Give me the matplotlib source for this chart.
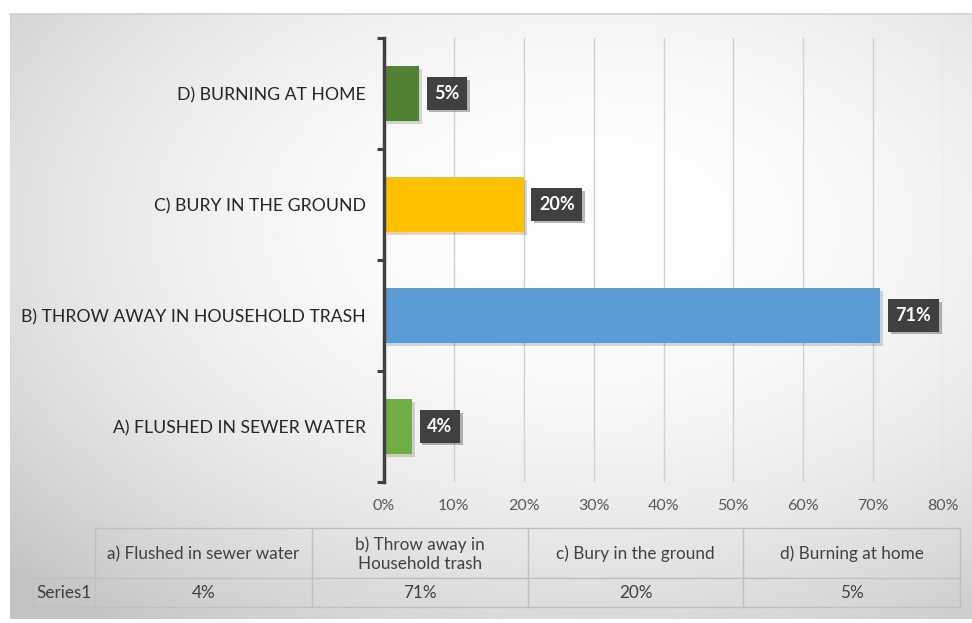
import numpy as np
import matplotlib
matplotlib.use("Agg")
import matplotlib.pyplot as plt
import matplotlib.patheffects as pe

categories = ["A) FLUSHED IN SEWER WATER", "B) THROW AWAY IN HOUSEHOLD TRASH",
              "C) BURY IN THE GROUND", "D) BURNING AT HOME"]
values = [4, 71, 20, 5]
bar_colors = ["#70AD47", "#5B9BD5", "#FFC000", "#548235"]
xticks = [0, 10, 20, 30, 40, 50, 60, 70, 80]
table_header = ["a) Flushed in sewer water", "b) Throw away in\nHousehold trash",
                "c) Bury in the ground", "d) Burning at home"]
series_name = "Series1"

plt.rcParams['font.family'] = ['Lato', 'DejaVu Sans']

W, H = 972, 623
fig = plt.figure(figsize=(W / 100, H / 100), dpi=100)
fig.patch.set_facecolor("white")

def fx(px):
    return px / W

def fy(py):
    return 1 - py / H

# background gradient panel
bx0, by0, bx1, by1 = 10, 14, 971, 619
bg = fig.add_axes([fx(bx0), fy(by1), fx(bx1 - bx0), (by1 - by0) / H])
bg.set_zorder(-5)
ny, nx = 300, 480
yy, xx = np.mgrid[0:ny, 0:nx]
cx, cy = nx * 0.6, ny * 0.35
r2 = ((xx - cx) / (nx / 2)) ** 2 + ((yy - cy) / (ny / 2)) ** 2
v = 1 - 0.085 * r2
v = np.clip(v, 0.77, 1.0)
img = np.dstack([v, v, v])
bg.imshow(img, aspect="auto", extent=[0, 1, 0, 1], interpolation="bilinear")
bg.set_xlim(0, 1)
bg.set_ylim(0, 1)
bg.axis("off")
fig.add_artist(plt.Line2D([fx(bx0), fx(bx1)], [fy(by0), fy(by0)], color="#d0d0d0", lw=1.2))

# main axes
ax_l, ax_r, ax_t, ax_b = 384, 943, 38, 482
ax = fig.add_axes([fx(ax_l), fy(ax_b), fx(ax_r - ax_l), (ax_b - ax_t) / H])
ax.set_facecolor("none")
ypos = np.arange(len(categories))
bars = ax.barh(ypos, values, height=0.5, color=bar_colors, zorder=3)
for b in bars:
    b.set_path_effects([pe.SimplePatchShadow(offset=(2, -2), alpha=0.15, shadow_rgbFace="black"),
                        pe.Normal()])

ax.set_xlim(0, 80)
ax.set_ylim(-0.5, len(categories) - 0.5)
ax.set_xticks(xticks)
ax.set_xticklabels([f"{t}%" for t in xticks], fontsize=11.5, color="#595959")
ax.set_yticks(ypos)
ax.set_yticklabels(categories, fontsize=12.7, color="#262626")
ax.set_yticks(np.arange(-0.5, len(categories), 1.0), minor=True)
ax.tick_params(axis="y", which="major", length=0, pad=13)
ax.tick_params(axis="y", which="minor", length=5, width=2.2, color="#404040")
ax.tick_params(axis="x", length=0, pad=12)
ax.grid(axis="x", color="#d0d0d0", lw=1, zorder=0)
for s in ["top", "right", "bottom"]:
    ax.spines[s].set_visible(False)
ax.spines["left"].set_color("#404040")
ax.spines["left"].set_linewidth(2.5)
ax.spines["left"].set_zorder(4)

for y, v_ in zip(ypos, values):
    t = ax.annotate(f"{v_}%", xy=(v_, y), xytext=(11, 0), textcoords="offset points",
                    ha="left", va="center", fontsize=13, fontweight="bold", color="white",
                    bbox=dict(boxstyle="square,pad=0.42", fc="#404040", ec="none"), zorder=5)
    t.get_bbox_patch().set_path_effects([pe.SimplePatchShadow(offset=(2, -2), alpha=0.3),
                                         pe.Normal()])

# data table
tl, tr, tt, tm, tb = 33, 960, 528, 578, 607
col_edges = [33, 95, 312, 528, 743, 960]
tax = fig.add_axes([0, 0, 1, 1])
tax.set_xlim(0, W)
tax.set_ylim(H, 0)
tax.axis("off")
tax.set_zorder(2)
lc = "#bfbfbf"
tax.plot([col_edges[1], tr], [tt, tt], color=lc, lw=1)
tax.plot([tl, tr], [tm, tm], color=lc, lw=1)
tax.plot([tl, tr], [tb, tb], color=lc, lw=1)
tax.plot([tl, tl], [tm, tb], color=lc, lw=1)
for xe in col_edges[1:]:
    tax.plot([xe, xe], [tt, tb], color=lc, lw=1)
for i, txt in enumerate(table_header):
    xc = (col_edges[i + 1] + col_edges[i + 2]) / 2
    tax.text(xc, (tt + tm) / 2 + 1, txt, ha="center", va="center", fontsize=12.3,
             color="#404040", linespacing=1.25)
    tax.text(xc, (tm + tb) / 2 + 1, f"{values[i]}%", ha="center", va="center",
             fontsize=12.3, color="#404040")
tax.text((col_edges[0] + col_edges[1]) / 2, (tm + tb) / 2 + 1, series_name, ha="center",
         va="center", fontsize=12.3, color="#404040")

fig.savefig("out.png", dpi=100)
